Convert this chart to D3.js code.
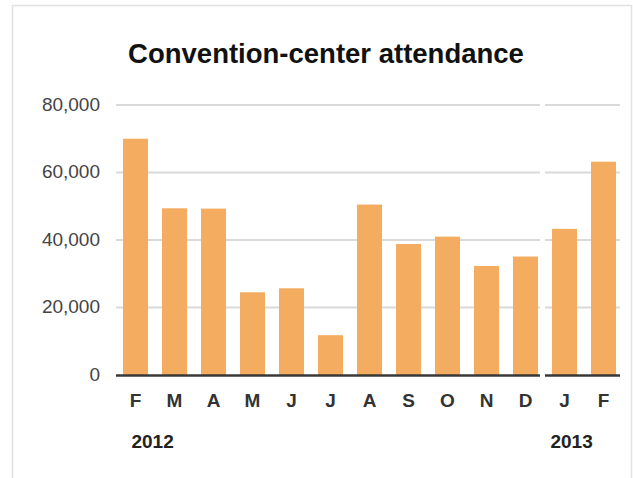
<!DOCTYPE html>
<html>
<head>
  <title>Convention-center attendance</title>
  <script src="https://d3js.org/d3.v7.min.js"></script>
  <style>
    body { margin: 0; background-color: white; }
    * { font-family: 'Liberation Sans', Arial, sans-serif; }
    .grid line { stroke: #dadada; stroke-width: 2px; }
    .ytick { fill: #444; font-size: 19px; }
    .month { fill: #333; font-size: 19px; font-weight: bold; }
    .year { fill: #222; font-size: 19px; font-weight: bold; }
  </style>
</head>
<body>
<div id="chart"></div>
<script type="text/javascript">
var width = 633;
var height = 478;

// data
var months = ["F", "M", "A", "M", "J", "J", "A", "S", "O", "N", "D", "J", "F"];
var attendance = [70000, 49400, 49300, 24500, 25700, 11800, 50500, 38800, 41000, 32300, 35100, 43300, 63200];
var yTicks = [0, 20000, 40000, 60000, 80000];
var years = ["2012", "2013"];
var yearStart = [0, 11]; // month index where each year begins

var svg = d3.select("#chart").append("svg").attr("width", width).attr("height", height);

// light frame round the chart
svg.append("rect")
  .attr("x", 12.5).attr("y", 5.5)
  .attr("width", 619).attr("height", 500)
  .style("fill", "none").style("stroke", "#e2e2e2").style("stroke-width", 1.5);

// title
svg.append("text")
  .attr("x", 326).attr("y", 63)
  .attr("text-anchor", "middle")
  .style("font-size", "27.5px").style("font-weight", "bold").style("fill", "#111")
  .text("Convention-center attendance");

// scales
var idx = d3.range(months.length);
var x = d3.scaleBand().domain(idx).range([116, 623]).paddingInner(0.358).paddingOuter(0.179);
var y = d3.scaleLinear().domain([0, 80000]).range([375, 105]);

// the two year panels, split by a small gap
var gapLeft = x(yearStart[1]) - 12;
var gapRight = x(yearStart[1]) - 7;
var panels = [[116, gapLeft], [gapRight, 620]];

// gridlines
var grid = svg.append("g").attr("class", "grid");
panels.forEach(function(p) {
  grid.selectAll(null)
    .data(yTicks.filter(function(t) { return t > 0; }))
    .enter()
    .append("line")
    .attr("x1", p[0]).attr("x2", p[1])
    .attr("y1", function(d) { return y(d); })
    .attr("y2", function(d) { return y(d); });
});

// y tick labels
svg.selectAll(".ytick")
  .data(yTicks)
  .enter()
  .append("text")
  .attr("class", "ytick")
  .attr("x", 100)
  .attr("y", function(d) { return y(d) + 5.5; })
  .attr("text-anchor", "end")
  .text(function(d) { return d3.format(",")(d); });

// bars
svg.selectAll(".bar")
  .data(attendance)
  .enter()
  .append("rect")
  .attr("class", "bar")
  .attr("x", function(d, i) { return x(i); })
  .attr("y", function(d) { return y(d); })
  .attr("width", x.bandwidth())
  .attr("height", function(d) { return y(0) - y(d); })
  .style("fill", "#f4ac60");

// baseline, broken between the years
panels.forEach(function(p) {
  svg.append("line")
    .attr("x1", p[0]).attr("x2", p[1])
    .attr("y1", y(0) + 0.5).attr("y2", y(0) + 0.5)
    .style("stroke", "#383838").style("stroke-width", 2.5);
});

// month labels
svg.selectAll(".month")
  .data(months)
  .enter()
  .append("text")
  .attr("class", "month")
  .attr("x", function(d, i) { return x(i) + x.bandwidth() / 2; })
  .attr("y", 407)
  .attr("text-anchor", "middle")
  .text(function(d) { return d; });

// year labels
svg.selectAll(".year")
  .data(years)
  .enter()
  .append("text")
  .attr("class", "year")
  .attr("x", function(d, i) { return x(yearStart[i]) + (i === 0 ? 8.5 : -1.5); })
  .attr("y", 448)
  .text(function(d) { return d; });
</script>
</body>
</html>
